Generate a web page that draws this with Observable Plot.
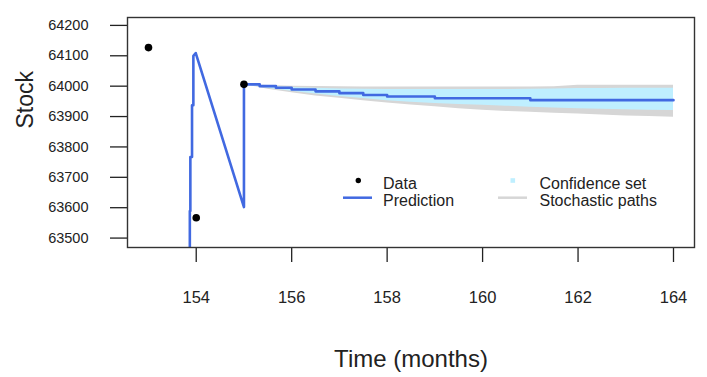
<!DOCTYPE html>
<html>
<head>
<meta charset="utf-8">
<script src="https://cdn.jsdelivr.net/npm/d3@7"></script>
<script src="https://cdn.jsdelivr.net/npm/@observablehq/plot@0.6"></script>
<style>
  html, body { margin: 0; padding: 0; background: #fff; }
  #chart svg { font-family: "Liberation Sans", Arial, sans-serif; color: #222; }
  #chart g[aria-label^="y-axis"] text { font-size: 14.5px; fill: #222; }
  #chart g[aria-label^="x-axis"] text { font-size: 16.5px; fill: #222; }
  #chart g[aria-label^="x-axis"] path, #chart g[aria-label^="y-axis"] path { stroke: #222; stroke-width: 1.3; }
</style>
</head>
<body>
<div id="chart"></div>
<script>
// Observed data points
const dataTime = [153, 154, 155];
const dataStock = [64127, 63567, 64006];

// Prediction: first part (linear segments)
const headTime  = [153.866, 153.866, 153.877, 153.877, 153.912, 153.912, 153.94, 153.94, 153.99, 155, 155];
const headStock = [63380, 63589, 63589, 63767, 63767, 63937, 63937, 64100, 64109, 63602, 64006];

// Prediction: stepped part after month 155
const stepTime  = [155, 155.33, 155.67, 156, 156.5, 157, 157.5, 158, 159, 161, 164];
const stepStock = [64006, 64000, 63995, 63989, 63983, 63977, 63971, 63966, 63960, 63954, 63954];

// Bands
const bandTime = [155, 155.5, 156, 156.5, 157, 157.5, 158, 158.5, 159, 159.5, 160, 160.5, 161, 161.5, 162, 162.5, 163, 163.5, 164];
const confUpper = [64006, 64000, 63996, 63993, 63991, 63990, 63989, 63989, 63989, 63989, 63989, 63989, 63990, 63991, 63992, 63992, 63993, 63993, 63993];
const confLower = [64006, 63993, 63983, 63974, 63966, 63959, 63952, 63947, 63943, 63940, 63937, 63934, 63931, 63928, 63926, 63924, 63922, 63921, 63920];
const pathUpper = [64006, 64002, 64000, 63999, 63998, 63997, 63997, 63997, 63997, 63997, 63997, 63997, 63997, 63998, 64003, 64003, 64003, 64003, 64003];
const pathLower = [64006, 63990, 63978, 63968, 63960, 63952, 63945, 63938, 63932, 63926, 63921, 63917, 63914, 63911, 63908, 63905, 63902, 63900, 63898];

// Ticks
const xTicks = [154, 156, 158, 160, 162, 164];
const yTicks = [63500, 63600, 63700, 63800, 63900, 64000, 64100, 64200];

const blue = "#4169E1";
const confColor = "#BFEFFF";
const pathColor = "#D6D6D6";

const points = dataTime.map((t, i) => ({t, v: dataStock[i]}));
const head = headTime.map((t, i) => ({t, v: headStock[i]}));
const steps = stepTime.map((t, i) => ({t, v: stepStock[i]}));
const bands = bandTime.map((t, i) => ({t, cu: confUpper[i], cl: confLower[i], pu: pathUpper[i], pl: pathLower[i]}));

const svg = Plot.plot({
  width: 707,
  height: 377,
  marginLeft: 127,
  marginRight: 13,
  marginTop: 17,
  marginBottom: 130,
  style: {background: "#fff", overflow: "visible"},
  x: {domain: [152.56, 164.44], ticks: xTicks, tickSize: 15, tickPadding: 29, label: null, tickFormat: "d"},
  y: {domain: [63469, 64226], ticks: yTicks, tickSize: 17, tickPadding: 22, label: null, tickFormat: "d"},
  marks: [
    Plot.areaY(bands, {x: "t", y1: "pl", y2: "pu", fill: pathColor}),
    Plot.areaY(bands, {x: "t", y1: "cl", y2: "cu", fill: confColor}),
    Plot.line(head, {x: "t", y: "v", stroke: blue, strokeWidth: 2.6, clip: true}),
    Plot.line(steps, {x: "t", y: "v", stroke: blue, strokeWidth: 2.6, curve: "step-after"}),
    Plot.dot(points, {x: "t", y: "v", fill: "#000", r: 3.8}),
    Plot.frame({stroke: "#333", strokeWidth: 1.4}),
    Plot.text(["Time (months)"], {frameAnchor: "bottom", lineAnchor: "bottom", dy: 119, fontSize: 24, fill: "#222"}),
    Plot.text(["Stock"], {frameAnchor: "left", lineAnchor: "bottom", rotate: -90, dx: -95, dy: -4, fontSize: 23, fill: "#222"})
  ]
});

// Legend
const g = d3.select(svg).append("g")
  .attr("font-family", "Liberation Sans, Arial, sans-serif")
  .attr("font-size", 16)
  .attr("text-anchor", "start")
  .attr("fill", "#222");
g.append("circle").attr("cx", 358.3).attr("cy", 180.5).attr("r", 2.7).attr("fill", "#000");
g.append("line").attr("x1", 343).attr("x2", 372).attr("y1", 197.7).attr("y2", 197.7).attr("stroke", blue).attr("stroke-width", 2.5);
g.append("text").attr("x", 383).attr("y", 188.5).text("Data");
g.append("text").attr("x", 383).attr("y", 205.5).text("Prediction");
g.append("rect").attr("x", 510.5).attr("y", 178.2).attr("width", 4.6).attr("height", 4.6).attr("fill", confColor);
g.append("line").attr("x1", 498).attr("x2", 527).attr("y1", 197.7).attr("y2", 197.7).attr("stroke", pathColor).attr("stroke-width", 2.5);
g.append("text").attr("x", 539.5).attr("y", 188.5).text("Confidence set");
g.append("text").attr("x", 539.5).attr("y", 205.5).text("Stochastic paths");

document.getElementById("chart").append(svg);
</script>
</body>
</html>
